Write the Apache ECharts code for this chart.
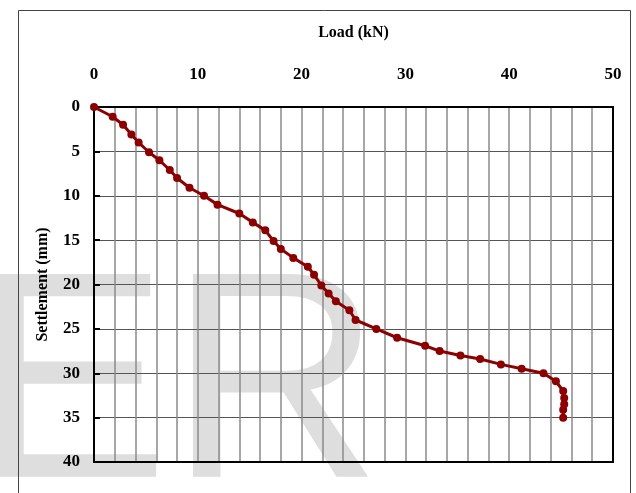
<!DOCTYPE html>
<html>
<head>
<meta charset="utf-8">
<script src="https://cdn.jsdelivr.net/npm/echarts@6/dist/echarts.min.js"></script>
<style>html,body{margin:0;padding:0;background:#fff;}#c{width:636px;height:493px;}</style>
</head>
<body>
<div id="c"></div>
<script>
const loadKN = [0, 1.8, 2.8, 3.6, 4.3, 5.3, 6.3, 7.3, 8.0, 9.2, 10.6, 11.9, 14.0, 15.3, 16.5, 17.3, 18.0, 19.2, 20.6, 21.2, 21.9, 22.6, 23.3, 24.6, 25.2, 27.2, 29.2, 31.9, 33.3, 35.3, 37.2, 39.2, 41.2, 43.3, 44.5, 45.2, 45.3, 45.3, 45.2, 45.2];
const settlementMM = [0, 1.1, 2.0, 3.1, 4.0, 5.1, 6.0, 7.1, 8.0, 9.1, 10.0, 11.0, 12.0, 13.0, 13.9, 15.1, 16.0, 17.0, 18.0, 18.9, 20.1, 21.0, 21.9, 22.9, 24.0, 25.0, 26.0, 26.9, 27.5, 28.0, 28.4, 29.0, 29.5, 30.0, 30.9, 32.0, 32.8, 33.5, 34.1, 35.0];
const xTicks = [0, 10, 20, 30, 40, 50];
const yTicks = [0, 5, 10, 15, 20, 25, 30, 35, 40];

const chart = echarts.init(document.getElementById('c'), null, {renderer: 'canvas'});
const font = '"Liberation Serif", "Times New Roman", serif';
chart.setOption({
  animation: false,
  backgroundColor: '#fff',
  graphic: [
    {type: 'text', z: 0, zlevel: 0, x: -28, y: 248, silent: true,
      style: {text: 'ER', fontSize: 295, fontFamily: '"Liberation Sans", Arial, sans-serif', fill: '#dedede', verticalAlign: 'top', align: 'left'}},
    {type: 'rect', z: 100, shape: {x: 18.5, y: 10.5, width: 612, height: 520}, style: {fill: 'none', stroke: '#444', lineWidth: 1}}
  ],
  grid: {left: 94, top: 107, right: 23, bottom: 31, show: true, borderColor: '#000', borderWidth: 2, backgroundColor: 'transparent', z: 3},
  xAxis: {
    type: 'value', position: 'top', min: 0, max: 50, interval: 2,
    name: 'Load (kN)', nameLocation: 'middle', nameGap: 66,
    nameTextStyle: {fontFamily: font, fontWeight: 'bold', fontSize: 16, color: '#000'},
    axisLine: {show: true, lineStyle: {color: '#000', width: 2}},
    axisTick: {show: false},
    axisLabel: {fontFamily: font, fontWeight: 'bold', fontSize: 17, color: '#000', margin: 24,
      formatter: v => xTicks.includes(v) ? String(v) : ''},
    splitLine: {show: true, lineStyle: {color: '#8a8a8a', width: 1.5}}
  },
  yAxis: {
    type: 'value', inverse: true, min: 0, max: 40, interval: 5,
    name: 'Settlement (mm)', nameLocation: 'middle', nameGap: 43, nameRotate: 90,
    nameTextStyle: {fontFamily: font, fontWeight: 'bold', fontSize: 16, color: '#000'},
    axisLine: {show: true, lineStyle: {color: '#000', width: 2}},
    axisTick: {show: true, inside: true, length: 6, lineStyle: {color: '#000', width: 2}},
    axisLabel: {fontFamily: font, fontWeight: 'bold', fontSize: 17, color: '#000', margin: 14,
      formatter: v => yTicks.includes(v) ? String(v) : ''},
    splitLine: {show: true, lineStyle: {color: '#555', width: 1.2}}
  },
  series: [{
    type: 'line',
    data: loadKN.map((x, i) => [x, settlementMM[i]]),
    symbol: 'circle', symbolSize: 8,
    lineStyle: {color: '#8b0000', width: 3},
    itemStyle: {color: '#8b0000'},
    clip: false, z: 5
  }]
});
</script>
</body>
</html>
